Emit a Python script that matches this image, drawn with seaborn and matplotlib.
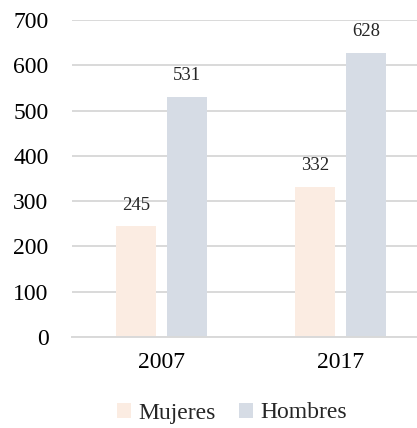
import matplotlib
matplotlib.use("Agg")
import matplotlib.pyplot as plt
import seaborn as sns
import pandas as pd

# data
years = ["2007", "2017"]
series = ["Mujeres", "Hombres"]
mujeres = [245, 332]
hombres = [531, 628]
colors = ["#FBECE2", "#D6DCE5"]

df = pd.DataFrame({
    "year": years * 2,
    "sexo": [series[0]] * len(years) + [series[1]] * len(years),
    "valor": mujeres + hombres,
})

sns.set_style("white")
plt.rcParams["font.family"] = ["Liberation Serif", "DejaVu Serif"]

fig = plt.figure(figsize=(4.17, 4.28), dpi=100)
ax = fig.add_axes([72 / 417, 91 / 428, 358 / 417, 317 / 428])

sns.barplot(data=df, x="year", y="valor", hue="sexo", palette=colors,
            width=0.57, gap=0.216, linewidth=0, saturation=1, ax=ax, legend=True)

for cont in ax.containers:
    for bar in cont:
        h = bar.get_height()
        ax.annotate(f"{h:.0f}", (bar.get_x() + bar.get_width() / 2, h),
                    xytext=(0, 15), textcoords="offset points",
                    ha="center", va="center", fontsize=13.5)

ax.set_ylim(0, 700)
ax.set_yticks(range(0, 701, 100))
ax.set_xlim(-0.5, 1.5)
ax.yaxis.grid(True, color="#D9D9D9", linewidth=1.4)
ax.set_axisbelow(True)
for s in ["top", "right", "left"]:
    ax.spines[s].set_visible(False)
ax.spines["bottom"].set_color("#D9D9D9")
ax.spines["bottom"].set_linewidth(1.4)
ax.tick_params(axis="both", length=0, labelsize=17, colors="black")
ax.tick_params(axis="x", pad=11)
ax.tick_params(axis="y", pad=17)
ax.set_xlabel("")
ax.set_ylabel("")

ax.get_legend().remove()
handles, labels = ax.get_legend_handles_labels()
fig.legend(handles, labels, loc="center", bbox_to_anchor=(232 / 417, 15 / 428),
           ncol=2, frameon=False, fontsize=17, handlelength=0.6, handleheight=0.6,
           handletextpad=0.3, columnspacing=1.0)

fig.savefig("out.png", dpi=100)
